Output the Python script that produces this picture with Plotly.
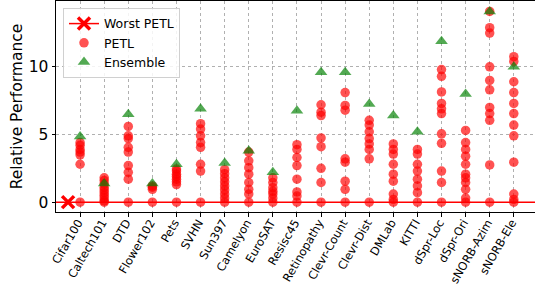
import plotly.graph_objects as go

categories = ["Cifar100", "Caltech101", "DTD", "Flower102", "Pets", "SVHN", "Sun397",
              "Camelyon", "EuroSAT", "Resisc45", "Retinopathy", "Clevr-Count", "Clevr-Dist",
              "DMLab", "KITTI", "dSpr-Loc", "dSpr-Ori", "sNORB-Azim", "sNORB-Ele"]

petl_values = [
    [4.4, 4.2, 3.9, 3.7, 3.5, 2.8, 0],
    [1.8, 1.6, 1.35, 1.1, 0.9, 0.7, 0.5, 0.3, 0.1, 0],
    [5.6, 4.9, 4.7, 4.05, 3.7, 2.7, 2.2, 1.7, 0],
    [1.2, 1.1, 0.95, 0],
    [2.45, 2.3, 2.07, 1.9, 1.7, 1.5, 1.3, 0],
    [5.8, 5.4, 4.9, 4.4, 4.05, 2.8, 2.3, 0],
    [2.4, 2.1, 1.8, 1.5, 1.2, 0.9, 0.6, 0.3, 0],
    [3.7, 3.05, 2.55, 2.07, 1.45, 0.95, 0.6, 0],
    [1.8, 1.45, 1.07, 0.8, 0.6, 0.3, 0],
    [4.25, 3.9, 3.3, 2.7, 1.7, 0.75, 0.45, 0],
    [7.2, 6.65, 6.4, 4.75, 4.1, 2.5, 1.45, 0],
    [8.1, 7.15, 6.8, 3.2, 2.95, 1.55, 0.95, 0],
    [6.05, 5.7, 5.2, 4.7, 4.3, 3.9, 3.2, 0],
    [4.3, 3.9, 3.55, 2.8, 2.07, 1.55, 0.6, 0.2, 0],
    [3.9, 3.55, 2.8, 2.3, 1.7, 1.2, 0.7, 0],
    [9.8, 9.3, 8.15, 7.3, 6.9, 6.55, 5.05, 4.35, 2.3, 1.45, 0],
    [5.3, 4.4, 3.9, 3.4, 2.8, 2.07, 1.8, 1.45, 0.95, 0.3, 0],
    [14.1, 12.9, 12.5, 10.0, 9.0, 8.3, 7.0, 6.55, 6.05, 2.75, 0],
    [10.75, 10.4, 8.9, 8.1, 7.3, 6.55, 5.7, 4.9, 2.95, 0.6, 0.2, 0],
]

ensemble_values = [4.85, 1.37, 6.5, 1.37, 2.8, 6.9, 2.9, 3.8, 2.2, 6.75,
                   9.6, 9.6, 7.25, 6.4, 5.2, 11.9, 8.0, 14.1, 10.0]

worst_petl_value = 0
worst_petl_position = -0.5

y_ticks = [0, 5, 10]

idx = list(range(len(categories)))
px, py = [], []
for i, vals in enumerate(petl_values):
    for v in vals:
        px.append(i)
        py.append(v)

fig = go.Figure()

# horizontal worst-PETL line
fig.add_hline(y=worst_petl_value, line=dict(color="#ff0000", width=1.5), layer="above")

fig.add_trace(go.Scatter(
    x=[worst_petl_position], y=[worst_petl_value], mode="lines+markers", name="Worst PETL",
    line=dict(color="#ff0000", width=1.5),
    marker=dict(symbol="x-thin", size=12, color="#ff0000",
                line=dict(color="#ff0000", width=3.5)),
    cliponaxis=False,
))
fig.add_trace(go.Scatter(
    x=px, y=py, mode="markers", name="PETL",
    marker=dict(symbol="circle", size=9.5, color="rgba(255,0,0,0.68)", line=dict(width=0)),
))
fig.add_trace(go.Scatter(
    x=idx, y=ensemble_values, mode="markers", name="Ensemble",
    marker=dict(symbol="triangle-up", size=11, color="rgba(0,128,0,0.68)", line=dict(width=0)),
    cliponaxis=False,
))

fig.update_layout(
    width=535, height=285,
    margin=dict(l=56, r=0, t=1, b=73),
    plot_bgcolor="white", paper_bgcolor="white",
    font=dict(family="DejaVu Sans", size=13, color="black"),
    showlegend=True,
    legend=dict(x=0.0146, y=0.967, xanchor="left", yanchor="top",
                bgcolor="rgba(255,255,255,0.85)", bordercolor="#d0d0d0", borderwidth=1,
                font=dict(size=12.5), itemwidth=30, tracegroupgap=0),
)
fig.update_xaxes(
    range=[-1.0, 18.88], tickmode="array", tickvals=idx, ticktext=categories,
    tickangle=-60, tickfont=dict(size=11.5), automargin=False,
    ticklabelstandoff=-5, ticklabelshift=-2,
    showgrid=True, gridcolor="#b0b0b0", griddash="dot", gridwidth=1,
    showline=True, linecolor="black", linewidth=1, mirror=True,
    ticks="outside", ticklen=3.5, tickcolor="black", zeroline=False,
)
fig.update_yaxes(
    range=[-0.73, 14.87], tickmode="array", tickvals=y_ticks,
    tickfont=dict(size=15.5), automargin=False,
    title=dict(text="Relative Performance", font=dict(size=15.5), standoff=2),
    showgrid=True, gridcolor="#b0b0b0", griddash="dot", gridwidth=1,
    showline=True, linecolor="black", linewidth=1, mirror=True,
    ticks="outside", ticklen=3.5, tickcolor="black", zeroline=False,
)

fig.write_html("out.html", config={"displayModeBar": False},
               post_script="document.body.style.margin='0';document.body.style.overflow='hidden';")
